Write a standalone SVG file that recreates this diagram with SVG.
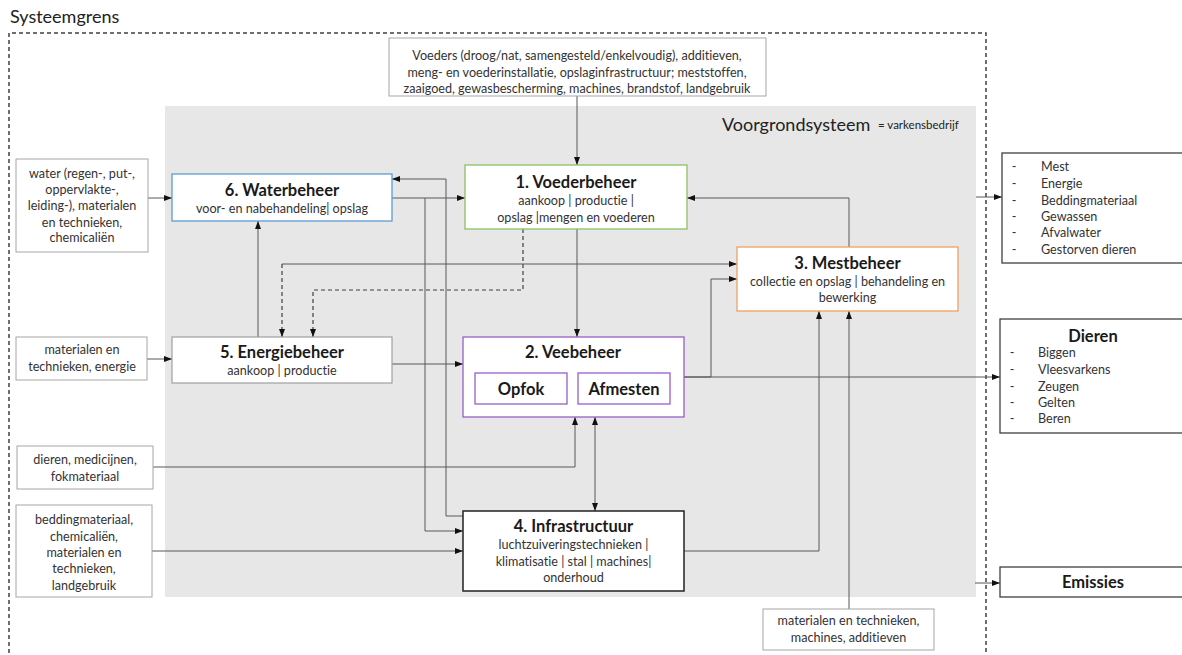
<svg xmlns="http://www.w3.org/2000/svg" width="1182" height="655" viewBox="0 0 1182 655">
<defs>
<style>
.t{font-family:Lato,'Liberation Sans',sans-serif;fill:#333;text-anchor:middle;font-variant-ligatures:none;font-feature-settings:"liga" 0,"clig" 0,"dlig" 0}
.l{text-anchor:start}
.s{font-size:12.6px}
.ti{font-size:16.5px;font-weight:bold;fill:#1a1a1a}
.in{fill:#fff;stroke:#a6a6a6;stroke-width:1}
.c{fill:none;stroke:#595959;stroke-width:1}
.d{fill:none;stroke:#404040;stroke-width:1.2;stroke-dasharray:4 3}
.ah{marker-end:url(#a)}
</style>
<marker id="a" viewBox="0 0 8 8" markerWidth="8" markerHeight="8" refX="8" refY="4" orient="auto-start-reverse" markerUnits="userSpaceOnUse">
<path d="M0,1 L8,4 L0,7 z" fill="#111"/>
</marker>
</defs>
<rect width="1182" height="655" fill="#fff"/>
<text class="t l" x="10" y="23" style="font-size:18px;fill:#222">Systeemgrens</text>
<path d="M9,660 V33 H986 V660" fill="none" stroke="#404040" stroke-width="1.5" stroke-dasharray="4 3"/>
<rect x="165" y="106" width="811" height="491" fill="#e7e7e7"/>
<text class="t l" x="722" y="131" style="font-size:18px;fill:#222">Voorgrondsysteem</text>
<text class="t l" x="878" y="129" style="font-size:11.5px;fill:#222">= varkensbedrijf</text>

<g id="connectors">
<path class="c ah" d="M577,96 V165"/>
<path class="c ah" d="M148,198 H172"/>
<path class="c ah" d="M147,359 H172"/>
<path class="c ah" d="M258,337 V221"/>
<path class="c ah" d="M392,198 H465"/>
<path class="c ah" d="M463,516 H446 V179 H392"/>
<path class="c ah" d="M425,198 V531 H463"/>
<path class="c ah" d="M152,551 H463"/>
<path class="c ah" d="M153,467 H575 V417"/>
<path class="c" d="M595,417 V511" marker-start="url(#a)" marker-end="url(#a)"/>
<path class="c ah" d="M392,364 H463"/>
<path class="c ah" d="M577,229 V337"/>
<path class="d ah" d="M523,229 V290 H313 V337"/>
<path class="c ah" d="M282,264 H737"/>
<path class="d ah" d="M282,264 V337"/>
<path class="c ah" d="M684,377 H711 V279 H737"/>
<path class="c ah" d="M684,377 H1000"/>
<path class="c ah" d="M849,247 V198 H687"/>
<path class="c ah" d="M684,551 H819 V311"/>
<path class="c ah" d="M849,609 V311"/>
<path class="c ah" d="M976,197 H1002"/>
<path class="c ah" d="M975,583 H1000"/>
</g>

<g id="input-top">
<rect class="in" x="389" y="38" width="377" height="58"/>
<text class="t s" x="577" y="60">Voeders (droog/nat, samengesteld/enkelvoudig), additieven,</text>
<text class="t s" x="577" y="77">meng- en voederinstallatie, opslaginfrastructuur; meststoffen,</text>
<text class="t s" x="577" y="93">zaaigoed, gewasbescherming, machines, brandstof, landgebruik</text>
</g>

<g id="input-water">
<rect class="in" x="16" y="159" width="132" height="93"/>
<text class="t s" x="82" y="178">water (regen-, put-,</text>
<text class="t s" x="82" y="194">oppervlakte-,</text>
<text class="t s" x="82" y="210">leiding-), materialen</text>
<text class="t s" x="82" y="227">en technieken,</text>
<text class="t s" x="82" y="242">chemicaliën</text>
</g>

<g id="input-energie">
<rect class="in" x="16" y="337" width="131" height="43"/>
<text class="t s" x="82" y="354">materialen en</text>
<text class="t s" x="82" y="371">technieken, energie</text>
</g>

<g id="input-dieren">
<rect class="in" x="17" y="446" width="136" height="43"/>
<text class="t s" x="85" y="464">dieren, medicijnen,</text>
<text class="t s" x="85" y="481">fokmateriaal</text>
</g>

<g id="input-bedding">
<rect class="in" x="16" y="505" width="136" height="92"/>
<text class="t s" x="84" y="524">beddingmateriaal,</text>
<text class="t s" x="84" y="541">chemicaliën,</text>
<text class="t s" x="84" y="557">materialen en</text>
<text class="t s" x="84" y="573">technieken,</text>
<text class="t s" x="84" y="590">landgebruik</text>
</g>

<g id="input-bottom">
<rect class="in" x="763" y="609" width="171" height="41"/>
<text class="t s" x="848.5" y="625">materialen en technieken,</text>
<text class="t s" x="848.5" y="642">machines, additieven</text>
</g>

<g id="n6-waterbeheer">
<rect x="172" y="174" width="220" height="47" fill="#fff" stroke="#5b9bd5" stroke-width="1.3"/>
<text class="t ti" x="282" y="196">6. Waterbeheer</text>
<text class="t s" x="282" y="213">voor- en nabehandeling|  opslag</text>
</g>

<g id="n5-energiebeheer">
<rect x="172" y="337" width="220" height="46" fill="#fff" stroke="#a0a0a0" stroke-width="1.2"/>
<text class="t ti" x="282" y="358">5. Energiebeheer</text>
<text class="t s" x="282" y="375">aankoop | productie</text>
</g>

<g id="n1-voederbeheer">
<rect x="465" y="165" width="222" height="64" fill="#fff" stroke="#8cc063" stroke-width="1.3"/>
<text class="t ti" x="576" y="188">1. Voederbeheer</text>
<text class="t s" x="576" y="205">aankoop | productie |</text>
<text class="t s" x="576" y="222">opslag |mengen en voederen</text>
</g>

<g id="n2-veebeheer">
<rect x="463" y="337" width="221" height="80" fill="#fff" stroke="#9660c8" stroke-width="1.3"/>
<text class="t ti" x="573" y="358">2. Veebeheer</text>
<rect x="475" y="373" width="92" height="31" fill="#fff" stroke="#9660c8" stroke-width="1.3"/>
<text class="t ti" x="521" y="395">Opfok</text>
<rect x="578" y="373" width="92" height="31" fill="#fff" stroke="#9660c8" stroke-width="1.3"/>
<text class="t ti" x="624" y="395">Afmesten</text>
</g>

<g id="n3-mestbeheer">
<rect x="737" y="247" width="221" height="64" fill="#fff" stroke="#f0a060" stroke-width="1.3"/>
<text class="t ti" x="847.5" y="269">3. Mestbeheer</text>
<text class="t s" x="847.5" y="286">collectie en opslag | behandeling en</text>
<text class="t s" x="847.5" y="302">bewerking</text>
</g>

<g id="n4-infrastructuur">
<rect x="463" y="511" width="221" height="80" fill="#fff" stroke="#222" stroke-width="1.5"/>
<text class="t ti" x="573.5" y="532">4. Infrastructuur</text>
<text class="t s" x="573.5" y="549">luchtzuiveringstechnieken  |</text>
<text class="t s" x="573.5" y="566">klimatisatie | stal | machines|</text>
<text class="t s" x="573.5" y="582">onderhoud</text>
</g>

<g id="out-producten">
<rect x="1002" y="153" width="190" height="110" fill="#fff" stroke="#404040" stroke-width="1.3"/>
<text class="t s" x="1014" y="171">-</text><text class="t s l" x="1041" y="171">Mest</text>
<text class="t s" x="1014" y="188">-</text><text class="t s l" x="1041" y="188">Energie</text>
<text class="t s" x="1014" y="205">-</text><text class="t s l" x="1041" y="205">Beddingmateriaal</text>
<text class="t s" x="1014" y="221">-</text><text class="t s l" x="1041" y="221">Gewassen</text>
<text class="t s" x="1014" y="237">-</text><text class="t s l" x="1041" y="237">Afvalwater</text>
<text class="t s" x="1014" y="254">-</text><text class="t s l" x="1041" y="254">Gestorven dieren</text>
</g>

<g id="out-dieren">
<rect x="1000" y="319" width="190" height="114" fill="#fff" stroke="#404040" stroke-width="1.3"/>
<text class="t ti" x="1093" y="342">Dieren</text>
<text class="t s" x="1012" y="357">-</text><text class="t s l" x="1038" y="357">Biggen</text>
<text class="t s" x="1012" y="374">-</text><text class="t s l" x="1038" y="374">Vleesvarkens</text>
<text class="t s" x="1012" y="391">-</text><text class="t s l" x="1038" y="391">Zeugen</text>
<text class="t s" x="1012" y="407">-</text><text class="t s l" x="1038" y="407">Gelten</text>
<text class="t s" x="1012" y="423">-</text><text class="t s l" x="1038" y="423">Beren</text>
</g>

<g id="out-emissies">
<rect x="1000" y="567" width="190" height="30" fill="#fff" stroke="#404040" stroke-width="1.3"/>
<text class="t ti" x="1093" y="588">Emissies</text>
</g>
</svg>
